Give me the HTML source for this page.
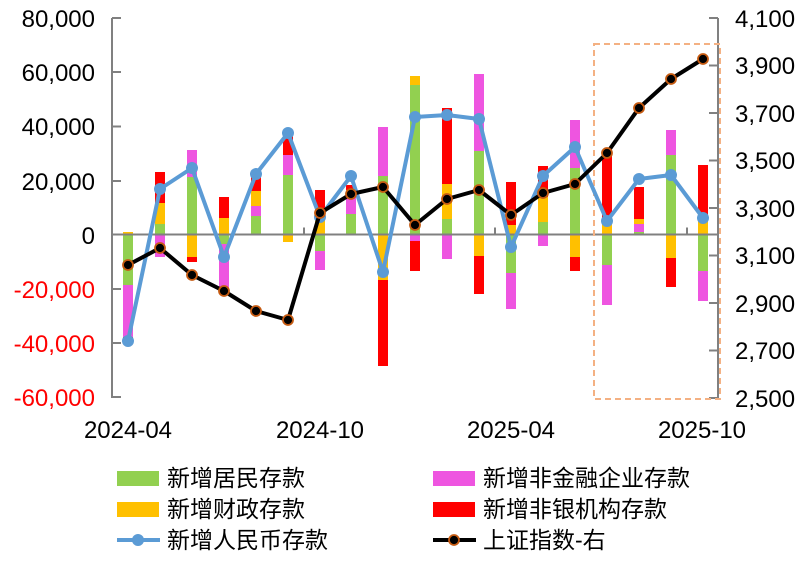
<!DOCTYPE html>
<html><head><meta charset="utf-8"><style>body{margin:0;background:#fff}svg{display:block}</style></head><body>
<svg width="808" height="561" xmlns="http://www.w3.org/2000/svg" font-family="Liberation Sans, Noto Sans CJK SC, sans-serif">
<rect width="808" height="561" fill="#fff"/>
<g>
<rect x="123" y="232" width="10" height="2" fill="#ffc000"/><rect x="123" y="234" width="10" height="51" fill="#92d050"/><rect x="123" y="285" width="10" height="52" fill="#ee55e0"/><rect x="123" y="337" width="10" height="2" fill="#ff0000"/>
<rect x="155" y="224" width="10" height="10" fill="#92d050"/><rect x="155" y="203" width="10" height="21" fill="#ffc000"/><rect x="155" y="172" width="10" height="31" fill="#ff0000"/><rect x="155" y="234" width="10" height="23" fill="#ee55e0"/>
<rect x="187" y="177" width="10" height="57" fill="#92d050"/><rect x="187" y="150" width="10" height="27" fill="#ee55e0"/><rect x="187" y="234" width="10" height="23" fill="#ffc000"/><rect x="187" y="257" width="10" height="5" fill="#ff0000"/>
<rect x="219" y="218" width="10" height="16" fill="#ffc000"/><rect x="219" y="197" width="10" height="21" fill="#ff0000"/><rect x="219" y="234" width="10" height="10" fill="#92d050"/><rect x="219" y="244" width="10" height="46" fill="#ee55e0"/>
<rect x="251" y="216" width="10" height="18" fill="#92d050"/><rect x="251" y="206" width="10" height="10" fill="#ee55e0"/><rect x="251" y="191" width="10" height="15" fill="#ffc000"/><rect x="251" y="175" width="10" height="16" fill="#ff0000"/>
<rect x="283" y="175" width="10" height="59" fill="#92d050"/><rect x="283" y="155" width="10" height="20" fill="#ee55e0"/><rect x="283" y="135" width="10" height="20" fill="#ff0000"/><rect x="283" y="234" width="10" height="8" fill="#ffc000"/>
<rect x="315" y="220" width="10" height="14" fill="#ffc000"/><rect x="315" y="190" width="10" height="30" fill="#ff0000"/><rect x="315" y="234" width="10" height="17" fill="#92d050"/><rect x="315" y="251" width="10" height="19" fill="#ee55e0"/>
<rect x="346" y="214" width="10" height="20" fill="#92d050"/><rect x="346" y="193" width="10" height="21" fill="#ee55e0"/><rect x="346" y="190" width="10" height="3" fill="#ffc000"/><rect x="346" y="185" width="10" height="5" fill="#ff0000"/>
<rect x="378" y="176" width="10" height="58" fill="#92d050"/><rect x="378" y="127" width="10" height="49" fill="#ee55e0"/><rect x="378" y="234" width="10" height="46" fill="#ffc000"/><rect x="378" y="280" width="10" height="86" fill="#ff0000"/>
<rect x="410" y="85" width="10" height="149" fill="#92d050"/><rect x="410" y="76" width="10" height="9" fill="#ffc000"/><rect x="410" y="234" width="10" height="7" fill="#ee55e0"/><rect x="410" y="241" width="10" height="30" fill="#ff0000"/>
<rect x="442" y="219" width="10" height="15" fill="#92d050"/><rect x="442" y="184" width="10" height="35" fill="#ffc000"/><rect x="442" y="108" width="10" height="76" fill="#ff0000"/><rect x="442" y="234" width="10" height="25" fill="#ee55e0"/>
<rect x="474" y="151" width="10" height="83" fill="#92d050"/><rect x="474" y="74" width="10" height="77" fill="#ee55e0"/><rect x="474" y="234" width="10" height="22" fill="#ffc000"/><rect x="474" y="256" width="10" height="38" fill="#ff0000"/>
<rect x="506" y="225" width="10" height="9" fill="#ffc000"/><rect x="506" y="182" width="10" height="43" fill="#ff0000"/><rect x="506" y="234" width="10" height="39" fill="#92d050"/><rect x="506" y="273" width="10" height="36" fill="#ee55e0"/>
<rect x="538" y="222" width="10" height="12" fill="#92d050"/><rect x="538" y="197" width="10" height="25" fill="#ffc000"/><rect x="538" y="166" width="10" height="31" fill="#ff0000"/><rect x="538" y="234" width="10" height="12" fill="#ee55e0"/>
<rect x="570" y="168" width="10" height="66" fill="#92d050"/><rect x="570" y="120" width="10" height="48" fill="#ee55e0"/><rect x="570" y="234" width="10" height="23" fill="#ffc000"/><rect x="570" y="257" width="10" height="14" fill="#ff0000"/>
<rect x="602" y="220" width="10" height="14" fill="#ffc000"/><rect x="602" y="153" width="10" height="67" fill="#ff0000"/><rect x="602" y="234" width="10" height="31" fill="#92d050"/><rect x="602" y="265" width="10" height="40" fill="#ee55e0"/>
<rect x="634" y="232" width="10" height="2" fill="#92d050"/><rect x="634" y="224" width="10" height="8" fill="#ee55e0"/><rect x="634" y="219" width="10" height="5" fill="#ffc000"/><rect x="634" y="187" width="10" height="32" fill="#ff0000"/>
<rect x="666" y="155" width="10" height="79" fill="#92d050"/><rect x="666" y="130" width="10" height="25" fill="#ee55e0"/><rect x="666" y="234" width="10" height="24" fill="#ffc000"/><rect x="666" y="258" width="10" height="29" fill="#ff0000"/>
<rect x="698" y="220" width="10" height="14" fill="#ffc000"/><rect x="698" y="165" width="10" height="55" fill="#ff0000"/><rect x="698" y="234" width="10" height="37" fill="#92d050"/><rect x="698" y="271" width="10" height="30" fill="#ee55e0"/>
</g>
<g stroke="#808080" stroke-width="2" fill="none">
<path d="M112 18V398M112 18h9M112 72h9M112 126.5h9M112 181h9M112 289h9M112 343h9M112 397h9"/>
<path d="M718 18V398M718 18h-9M718 65.5h-9M718 113h-9M718 160.5h-9M718 208h-9M718 255.5h-9M718 303h-9M718 350.5h-9M718 398h-9"/>
<path d="M112 234.5H718M304 234.5v-7M495 234.5v-7M687 234.5v-7"/>
</g>
<rect x="594" y="44" width="126" height="355" fill="none" stroke="#f4b183" stroke-width="2" stroke-dasharray="6,4"/>
<polyline fill="none" stroke="#5b9bd5" stroke-width="4" stroke-linejoin="round" points="128,341 160,189 192,168 224,257 256,174 288,133 320,217 351,176 383,272 415,117 447,115 479,119 511,247 543,176 575,147 607,221 639,179 671,175 703,218"/>
<g fill="#5b9bd5"><circle cx="128" cy="341" r="6"/><circle cx="160" cy="189" r="6"/><circle cx="192" cy="168" r="6"/><circle cx="224" cy="257" r="6"/><circle cx="256" cy="174" r="6"/><circle cx="288" cy="133" r="6"/><circle cx="320" cy="217" r="6"/><circle cx="351" cy="176" r="6"/><circle cx="383" cy="272" r="6"/><circle cx="415" cy="117" r="6"/><circle cx="447" cy="115" r="6"/><circle cx="479" cy="119" r="6"/><circle cx="511" cy="247" r="6"/><circle cx="543" cy="176" r="6"/><circle cx="575" cy="147" r="6"/><circle cx="607" cy="221" r="6"/><circle cx="639" cy="179" r="6"/><circle cx="671" cy="175" r="6"/><circle cx="703" cy="218" r="6"/></g>
<polyline fill="none" stroke="#000" stroke-width="4" stroke-linejoin="round" points="128,265 160,248 192,275 224,291 256,311 288,320 320,213 351,194 383,187 415,225 447,199 479,190 511,215 543,193 575,184 607,153 639,108 671,79 703,59"/>
<g fill="#000" stroke="#c55a11" stroke-width="1.8"><circle cx="128" cy="265" r="5"/><circle cx="160" cy="248" r="5"/><circle cx="192" cy="275" r="5"/><circle cx="224" cy="291" r="5"/><circle cx="256" cy="311" r="5"/><circle cx="288" cy="320" r="5"/><circle cx="320" cy="213" r="5"/><circle cx="351" cy="194" r="5"/><circle cx="383" cy="187" r="5"/><circle cx="415" cy="225" r="5"/><circle cx="447" cy="199" r="5"/><circle cx="479" cy="190" r="5"/><circle cx="511" cy="215" r="5"/><circle cx="543" cy="193" r="5"/><circle cx="575" cy="184" r="5"/><circle cx="607" cy="153" r="5"/><circle cx="639" cy="108" r="5"/><circle cx="671" cy="79" r="5"/><circle cx="703" cy="59" r="5"/></g>
<g font-size="24" text-anchor="end">
<text x="95" y="27">80,000</text><text x="95" y="81">60,000</text><text x="95" y="135">40,000</text><text x="95" y="190">20,000</text><text x="95" y="244">0</text>
<g fill="#ff0000"><text x="95" y="298">-20,000</text><text x="95" y="352">-40,000</text><text x="95" y="406">-60,000</text></g>
</g>
<g font-size="24">
<text x="735" y="27">4,100</text><text x="735" y="74">3,900</text><text x="735" y="122">3,700</text><text x="735" y="169">3,500</text><text x="735" y="217">3,300</text><text x="735" y="264">3,100</text><text x="735" y="312">2,900</text><text x="735" y="359">2,700</text><text x="735" y="407">2,500</text>
</g>
<g font-size="24" text-anchor="middle">
<text x="128" y="438">2024-04</text><text x="320" y="438">2024-10</text><text x="511" y="438">2025-04</text><text x="702" y="438">2025-10</text>
</g>
<rect x="117" y="471" width="42" height="15" fill="#92d050"/>
<rect x="117" y="502" width="42" height="15" fill="#ffc000"/>
<rect x="433" y="471" width="42" height="15" fill="#ee55e0"/>
<rect x="433" y="502" width="42" height="15" fill="#ff0000"/>
<line x1="117" y1="540" x2="160" y2="540" stroke="#5b9bd5" stroke-width="4"/><circle cx="138" cy="540" r="6" fill="#5b9bd5"/>
<line x1="433" y1="540" x2="476" y2="540" stroke="#000" stroke-width="4"/><circle cx="454" cy="540" r="5" fill="#000" stroke="#c55a11" stroke-width="1.8"/>
<g font-size="23">
<text x="167" y="486">新增居民存款</text><text x="167" y="517">新增财政存款</text><text x="167" y="548">新增人民币存款</text>
<text x="483" y="486">新增非金融企业存款</text><text x="483" y="517">新增非银机构存款</text><text x="483" y="548">上证指数-右</text>
</g>
</svg>
</body></html>
